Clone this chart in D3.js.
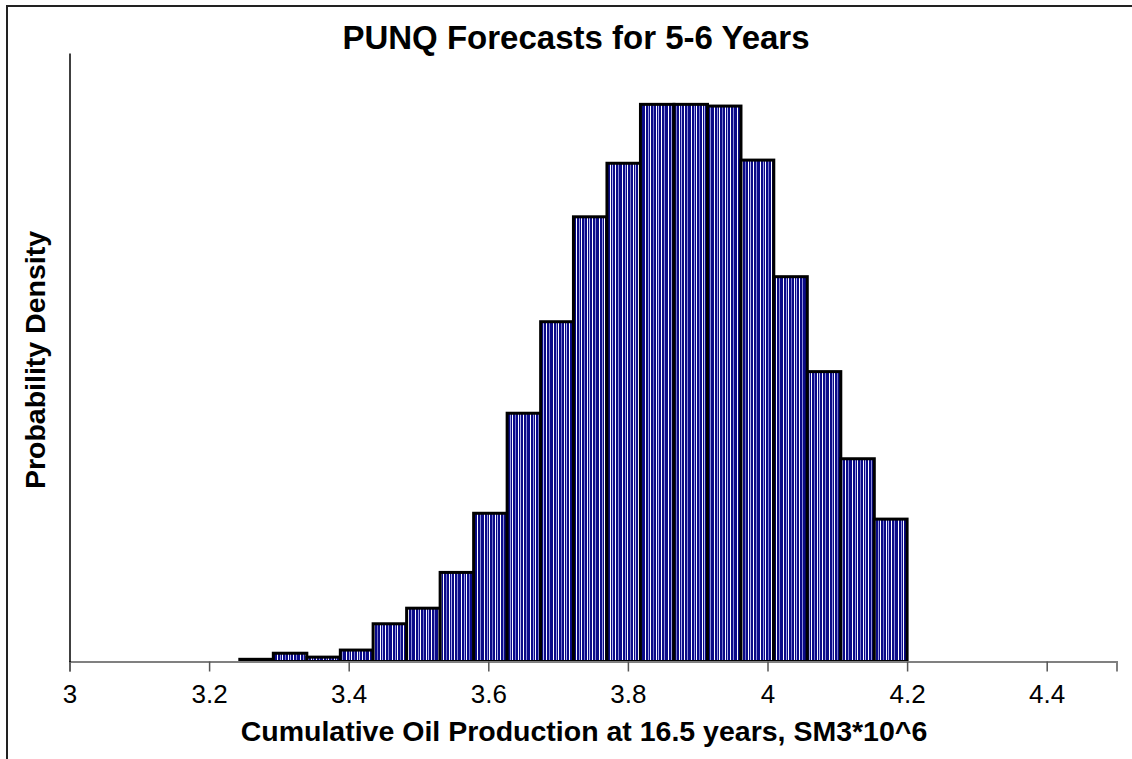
<!DOCTYPE html>
<html>
<head>
<meta charset="utf-8">
<script src="https://cdn.jsdelivr.net/npm/d3@7"></script>
<style>
  html, body { margin: 0; padding: 0; background: #fff; }
  svg { display: block; }
  text { font-family: "Liberation Sans", Arial, sans-serif; fill: #000; }
</style>
</head>
<body>
<svg id="chart" width="1132" height="759"></svg>
<script>
// Histogram bin edges (SM3*10^6) and probability density per bin
const binEdges = [3.244, 3.292, 3.340, 3.388, 3.435, 3.483, 3.531, 3.579, 3.627, 3.675,
                  3.722, 3.770, 3.818, 3.866, 3.914, 3.962, 4.009, 4.057, 4.105, 4.153, 4.200];
const density = [0.009, 0.034, 0.018, 0.047, 0.155, 0.219, 0.366, 0.609, 1.020, 1.396,
                 1.827, 2.047, 2.289, 2.289, 2.282, 2.060, 1.581, 1.191, 0.833, 0.585];
const xTicks = [3, 3.2, 3.4, 3.6, 3.8, 4, 4.2, 4.4];

const titleText = "PUNQ Forecasts for 5-6 Years";
const xTitle = "Cumulative Oil Production at 16.5 years, SM3*10^6";
const yTitle = "Probability Density";

const svg = d3.select("#chart");

const plot = { left: 69.5, right: 1116.5, top: 53, bottom: 661.5 };

const x = d3.scaleLinear().domain([3, 4.5]).range([plot.left, plot.right]);
const y = d3.scaleLinear().domain([0, 2.5]).range([plot.bottom, plot.top]);

// Outer chart frame (only left and top edges fall inside the page)
svg.append("rect")
  .attr("x", 7).attr("y", 6)
  .attr("width", 1160).attr("height", 800)
  .attr("fill", "none")
  .attr("stroke", "#222")
  .attr("stroke-width", 2);

// Navy fill with fine vertical light stripes
const defs = svg.append("defs");
const pat = defs.append("pattern")
  .attr("id", "stripes")
  .attr("patternUnits", "userSpaceOnUse")
  .attr("width", 23).attr("height", 10);
pat.append("rect").attr("width", 23).attr("height", 10).attr("fill", "#0a0a88");
const stripeDefs = [
  { o: 1, c: "#ffffff" }, { o: 4, c: "#9a9ae0" }, { o: 6, c: "#ffffff" },
  { o: 9, c: "#7878cc" }, { o: 12, c: "#ffffff" }, { o: 14, c: "#b0b0ee" },
  { o: 17, c: "#ffffff" }, { o: 20, c: "#8c8cd8" }
];
stripeDefs.forEach(s => {
  pat.append("rect").attr("x", s.o).attr("y", 0)
    .attr("width", 1).attr("height", 10).attr("fill", s.c);
});

// Bars
const bins = density.map((d, i) => ({ x0: binEdges[i], x1: binEdges[i + 1], v: d }));
svg.append("g")
  .selectAll("rect")
  .data(bins)
  .join("rect")
  .attr("x", d => x(d.x0))
  .attr("y", d => y(d.v))
  .attr("width", d => x(d.x1) - x(d.x0))
  .attr("height", d => y(0) - y(d.v))
  .attr("fill", "url(#stripes)")
  .attr("stroke", "#000")
  .attr("stroke-width", 3);

// X axis
const xAxis = d3.axisBottom(x)
  .tickValues(xTicks)
  .tickFormat(d3.format("~g"))
  .tickSize(10)
  .tickPadding(13);
const gx = svg.append("g")
  .attr("transform", `translate(0,${plot.bottom})`)
  .call(xAxis);
gx.select(".domain").attr("stroke", "#808080").attr("stroke-width", 2);
gx.selectAll(".tick line").attr("stroke", "#555").attr("stroke-width", 1.5);
gx.selectAll(".tick text")
  .attr("font-size", 26)
  .attr("font-family", "Liberation Sans, Arial, sans-serif")
  .attr("fill", "#000");

// Y axis line without ticks
const yAxis = d3.axisLeft(y).tickValues([]).tickSizeOuter(0);
const gy = svg.append("g")
  .attr("transform", `translate(${plot.left},0)`)
  .call(yAxis);
gy.select(".domain").attr("stroke", "#000").attr("stroke-width", 1.5);

// Titles
svg.append("text")
  .attr("x", 576).attr("y", 49)
  .attr("text-anchor", "middle")
  .attr("font-size", 33)
  .attr("font-weight", "bold")
  .text(titleText);

svg.append("text")
  .attr("x", 584).attr("y", 741)
  .attr("text-anchor", "middle")
  .attr("font-size", 28.5)
  .attr("font-weight", "bold")
  .text(xTitle);

svg.append("text")
  .attr("transform", "translate(45,360) rotate(-90)")
  .attr("text-anchor", "middle")
  .attr("font-size", 28.5)
  .attr("font-weight", "bold")
  .text(yTitle);
</script>
</body>
</html>
